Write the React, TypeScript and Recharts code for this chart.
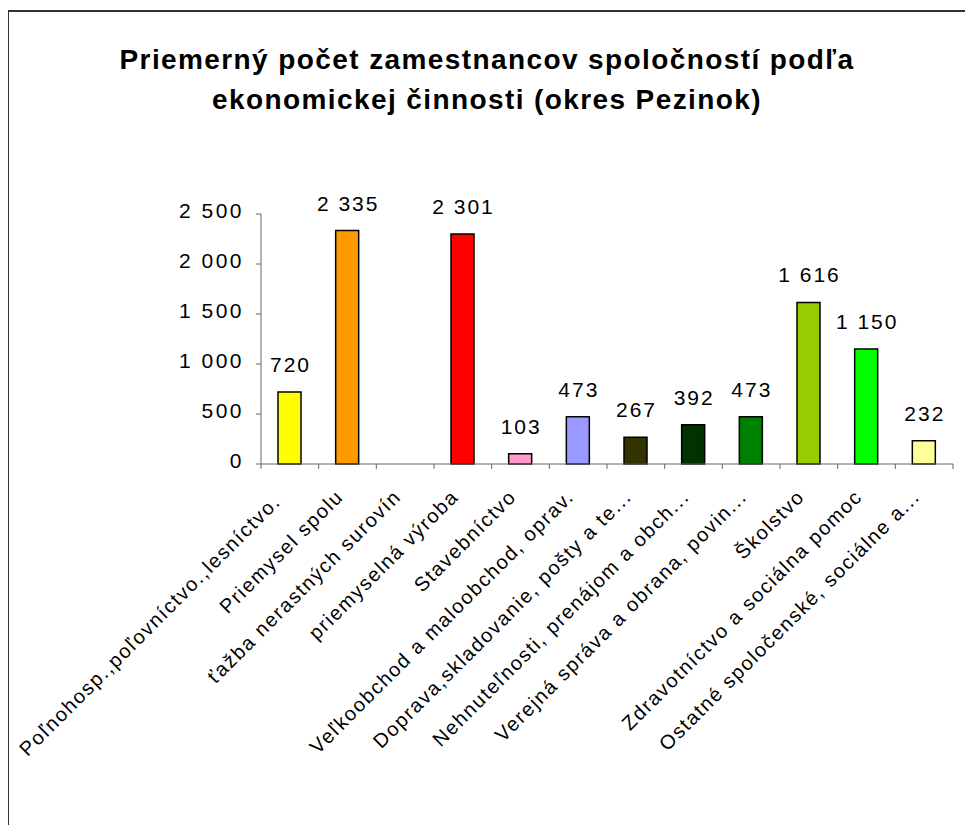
import { Bar, BarChart, Cell, LabelList, XAxis, YAxis } from "recharts";

const categories = [
  "Poľnohosp.,poľovníctvo.,lesníctvo.\u00a0",
  "Priemysel spolu",
  "ťažba nerastných surovín",
  "priemyselná výroba",
  "Stavebníctvo",
  "Veľkoobchod a maloobchod, oprav.",
  "Doprava,skladovanie, pošty a te...",
  "Nehnuteľnosti, prenájom a obch...",
  "Verejná správa a obrana, povin...",
  "Školstvo",
  "Zdravotníctvo a sociálna pomoc",
  "Ostatné spoločenské, sociálne a...",
];

const employees = [720, 2335, 0, 2301, 103, 473, 267, 392, 473, 1616, 1150, 232];

const barColors = [
  "#FFFF00",
  "#FF9900",
  "#FFFFFF",
  "#FF0000",
  "#FF99CC",
  "#9999FF",
  "#333300",
  "#003300",
  "#008000",
  "#99CC00",
  "#00FF00",
  "#FFFF99",
];

const yTicks = [0, 500, 1000, 1500, 2000, 2500];

const data = categories.map((name, i) => ({ name, value: employees[i] }));

const FONT = '"Liberation Sans", Arial, sans-serif';

const fmt = (v: number) => String(v).replace(/\B(?=(\d{3})+(?!\d))/g, " ");

const YTick = ({ x, y, payload }: any) => (
  <text
    x={x - 10}
    y={y}
    dy={4}
    textAnchor="end"
    fontFamily={FONT}
    fontSize={21}
    letterSpacing={2.5}
    fill="#000"
  >
    {fmt(payload.value)}
  </text>
);

const XTick = ({ x, y, payload, index, width }: any) => {
  const band = width / categories.length;
  const left = x - band / 2;
  const right = x + band / 2;
  return (
    <g>
      <line x1={left} y1={y - 8} x2={left} y2={y - 3} stroke="#666" />
      {index === categories.length - 1 && (
        <line x1={right} y1={y - 8} x2={right} y2={y - 3} stroke="#666" />
      )}
      <text
        x={x - 3}
        y={y + 26}
        textAnchor="end"
        transform={`rotate(-45 ${x - 3} ${y + 26})`}
        fontFamily={FONT}
        fontSize={20}
        letterSpacing={1.6}
        fill="#000"
      >
        {payload.value}
      </text>
    </g>
  );
};

const ValueLabel = ({ x, y, width, value }: any) => (
  <text
    x={x + width / 2 + 1}
    y={y - 20}
    textAnchor="middle"
    fontFamily={FONT}
    fontSize={21}
    letterSpacing={2}
    fill="#000"
  >
    {fmt(value)}
  </text>
);

export default function App() {
  return (
    <div style={{ position: "relative", width: 965, height: 817 }}>
      <div
        style={{
          position: "absolute",
          left: -1,
          top: 2,
          width: 960,
          height: 823,
          borderTop: "2px solid #333",
          borderLeft: "2px solid #333",
        }}
      />
      <div
        style={{
          position: "absolute",
          left: 0,
          top: 32,
          width: 958,
          textAlign: "center",
          fontFamily: FONT,
          fontWeight: "bold",
          fontSize: 28,
          letterSpacing: 1.4,
          lineHeight: "40px",
          color: "#000",
        }}
      >
        Priemerný počet zamestnancov spoločností podľa
        <br />
        ekonomickej činnosti (okres Pezinok)
      </div>
      <div style={{ position: "absolute", left: 0, top: 0 }}>
        <BarChart
          width={965}
          height={817}
          data={data}
          margin={{ top: 206, right: 20, bottom: 161, left: 193 }}
          barSize={23}
        >
          <XAxis
            dataKey="name"
            interval={0}
            height={200}
            tickLine={false}
            axisLine={{ stroke: "#666" }}
            tick={<XTick />}
          />
          <YAxis
            width={60}
            domain={[0, 2500]}
            ticks={yTicks}
            interval={0}
            tickSize={5}
            tickLine={{ stroke: "#666" }}
            axisLine={{ stroke: "#666" }}
            tick={<YTick />}
          />
          <Bar dataKey="value" stroke="#000" strokeWidth={1.5} isAnimationActive={false}>
            {data.map((d, i) => (
              <Cell key={d.name} fill={barColors[i]} stroke={d.value === 0 ? "none" : "#000"} />
            ))}
            <LabelList dataKey="value" content={<ValueLabel />} />
          </Bar>
        </BarChart>
      </div>
    </div>
  );
}
